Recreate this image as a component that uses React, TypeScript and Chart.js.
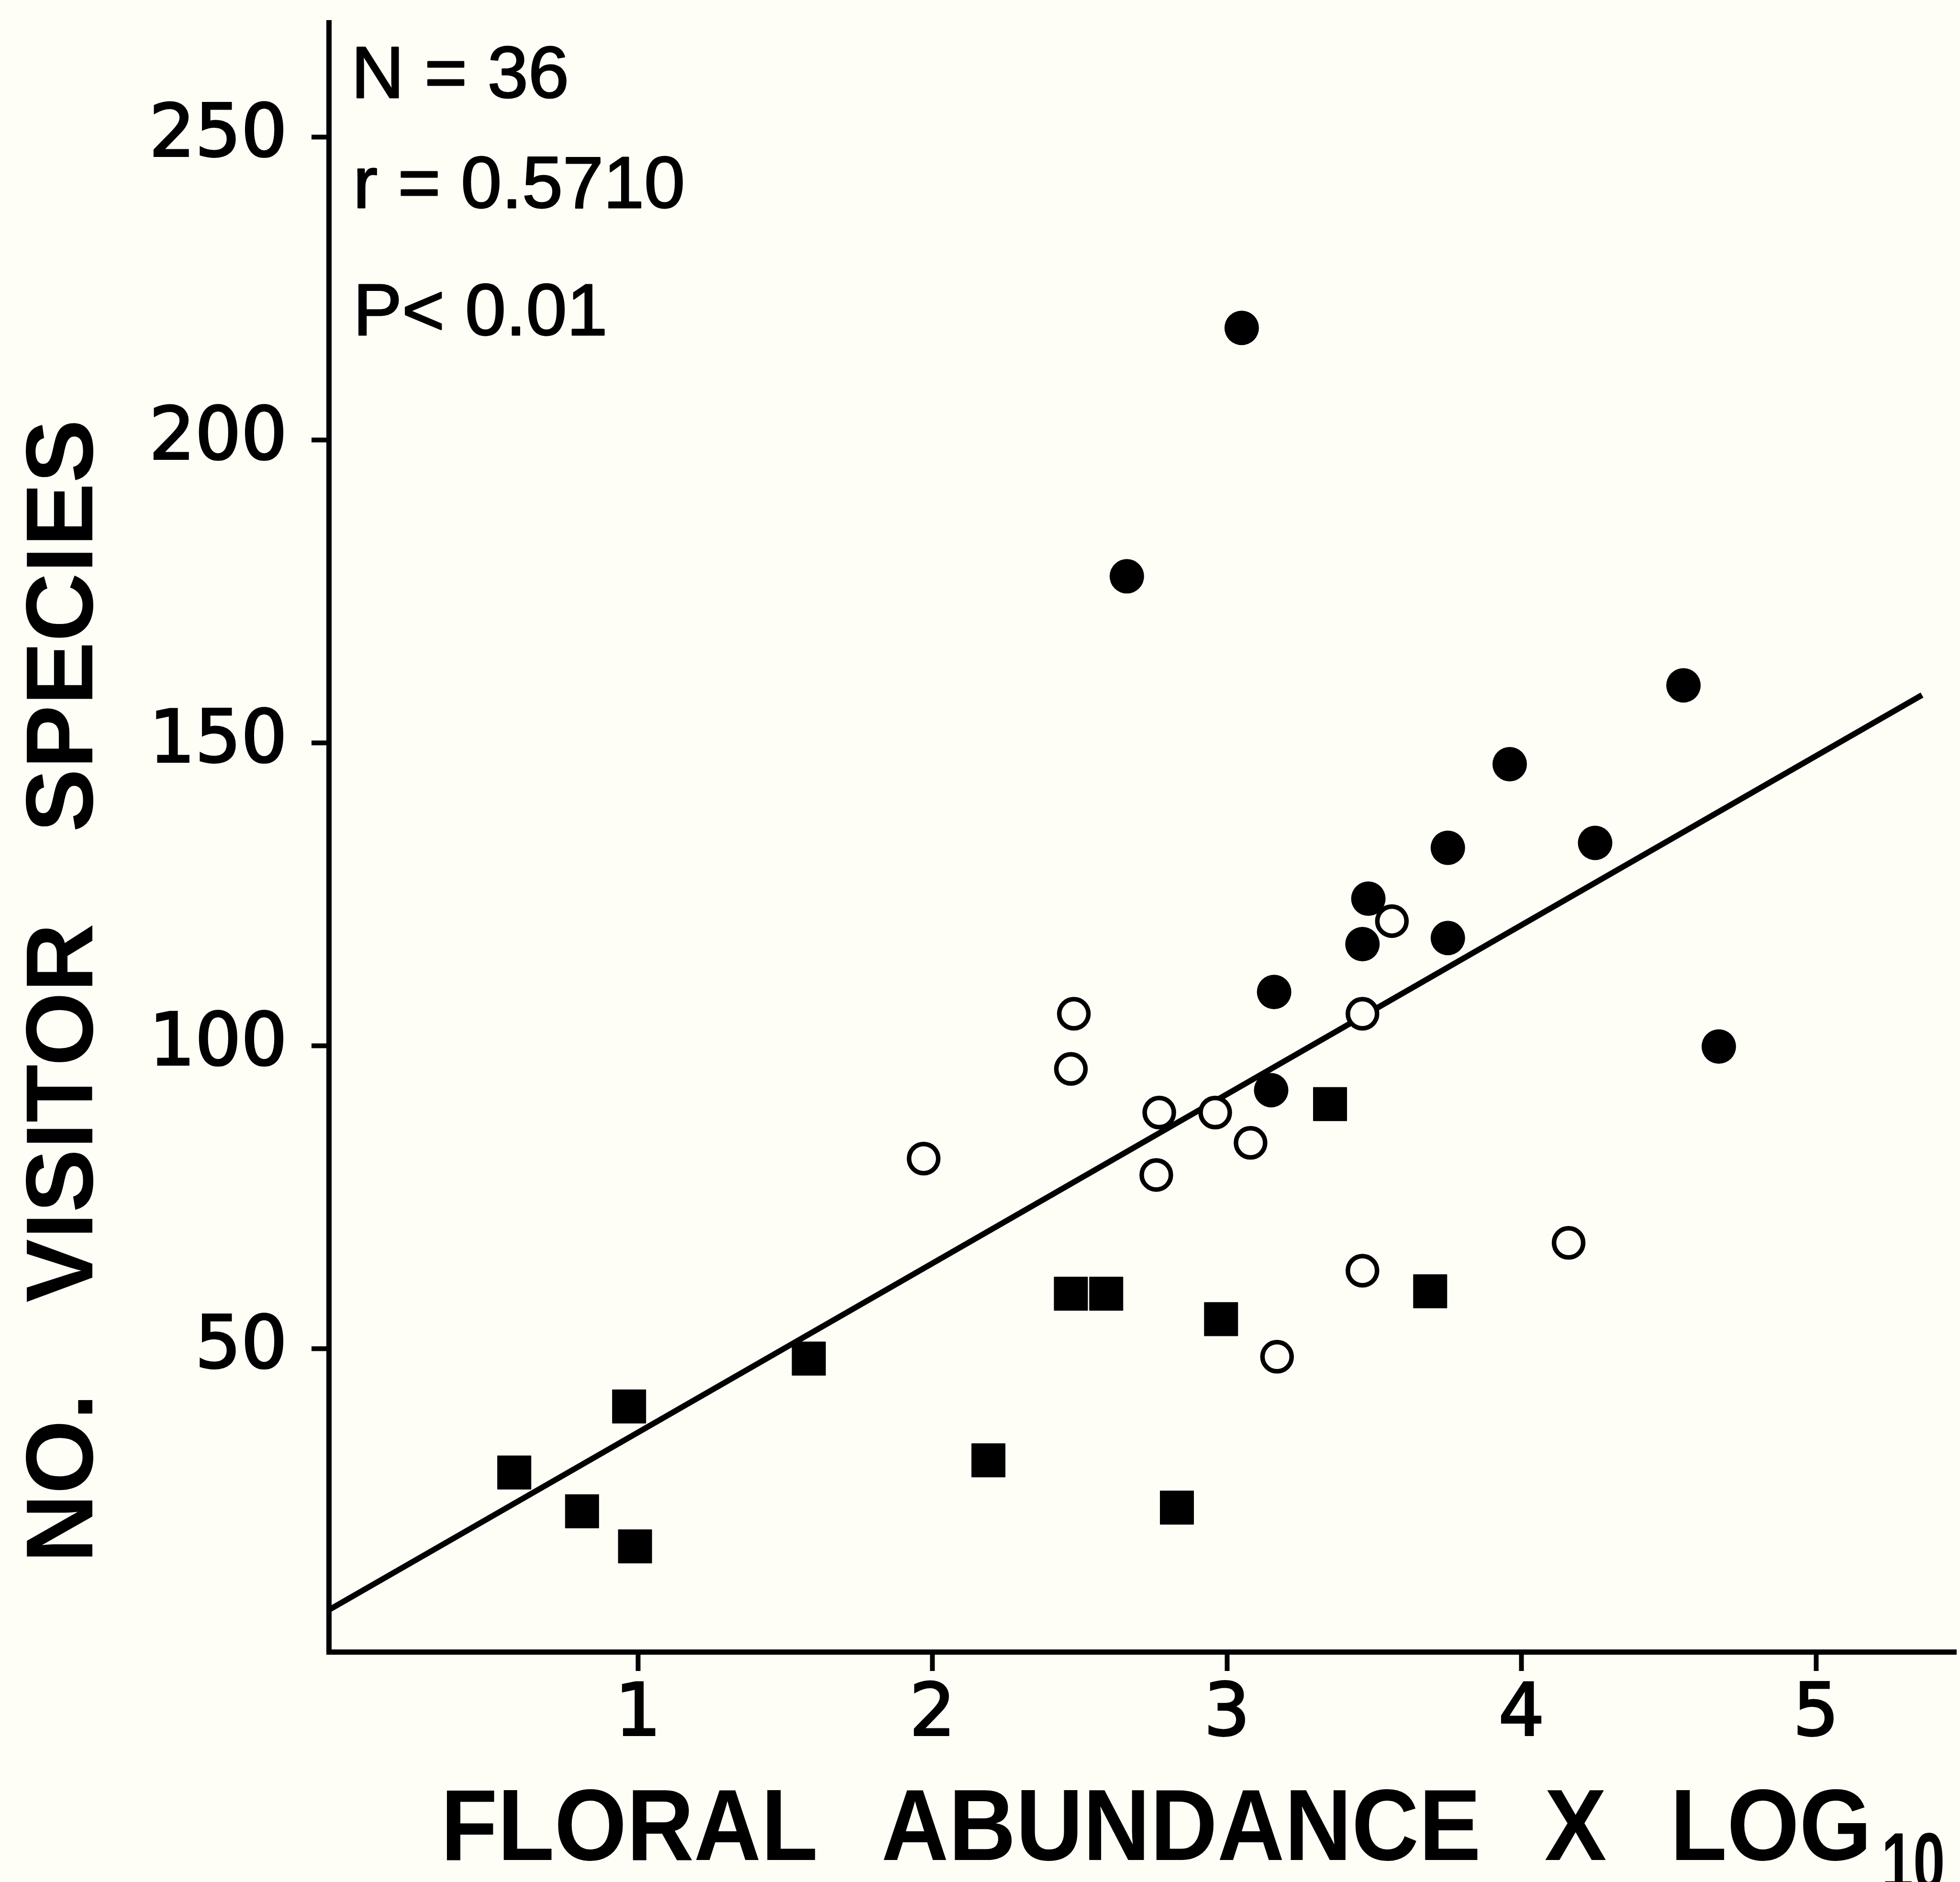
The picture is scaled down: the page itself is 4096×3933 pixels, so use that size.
import React, { useEffect, useRef } from 'react';
import { Chart, registerables } from 'chart.js';

Chart.register(...registerables);

// ---- data ----
const filledCircleX = [3.05, 2.66, 4.55, 3.96, 3.75, 4.25, 3.48, 3.46, 3.75, 3.16, 3.15, 4.67];
const filledCircleY = [218.5, 177.5, 159.5, 146.5, 132.7, 133.5, 124.3, 116.8, 117.8, 108.9, 92.7, 99.9];

const openCircleX = [3.56, 2.48, 3.46, 2.47, 2.77, 2.96, 3.08, 1.97, 2.76, 4.16, 3.46, 3.17];
const openCircleY = [120.6, 105.3, 105.3, 96.2, 89.0, 89.0, 84.0, 81.4, 78.7, 67.5, 62.9, 48.7];

const squareX = [3.35, 2.47, 2.59, 2.98, 3.69, 1.58, 0.97, 0.58, 0.81, 0.99, 2.19, 2.83];
const squareY = [90.4, 59.1, 59.1, 54.9, 59.5, 48.4, 40.5, 29.6, 23.2, 17.4, 31.6, 23.8];

const fitLineX = [-0.05, 5.36];
const fitLineY = [6.9, 157.9];

const xTicks = [1, 2, 3, 4, 5];
const yTicks = [50, 100, 150, 200, 250];

const statLines = ['N = 36', 'r = 0.5710', 'P< 0.01'];
const xTitle = 'FLORAL ABUNDANCE X LOG';
const xTitleSub = '10';
const yTitle = 'NO. VISITOR SPECIES';

const X_MIN = -0.05;
const X_MAX = 5.476;
const Y_MIN = 0;
const Y_MAX = 268.9;

const W = 4096;
const H = 3933;
const BG = '#fefef7';

const toPts = (xs: number[], ys: number[]) => xs.map((x, i) => ({ x, y: ys[i] }));

const textPlugin = {
  id: 'figureText',
  beforeDraw(chart: any) {
    const ctx = chart.ctx as CanvasRenderingContext2D;
    ctx.save();
    ctx.fillStyle = BG;
    ctx.fillRect(0, 0, chart.width, chart.height);
    ctx.restore();
  },
  afterDraw(chart: any) {
    const ctx = chart.ctx as any;
    const area = chart.chartArea;
    ctx.save();
    ctx.fillStyle = '#000';
    ctx.strokeStyle = '#000';
    ctx.lineJoin = 'round';
    ctx.textAlign = 'left';
    ctx.textBaseline = 'alphabetic';

    // statistics block
    ctx.font = '153px "Liberation Sans"';
    ctx.lineWidth = 3;
    const statBase = [204, 434, 700];
    const statX = [area.left + 47, area.left + 51, area.left + 51];
    statLines.forEach((s, i) => {
      ctx.fillText(s, statX[i], statBase[i]);
      ctx.strokeText(s, statX[i], statBase[i]);
    });

    // x-axis title
    ctx.save();
    ctx.translate(921, 3887);
    ctx.scale(0.917, 1);
    ctx.font = 'bold 212px "Liberation Sans"';
    ctx.wordSpacing = '86px';
    ctx.fillText(xTitle, 0, 0);
    ctx.restore();

    // subscript
    ctx.save();
    ctx.translate(3932, 3949);
    ctx.scale(0.7, 1);
    ctx.font = 'bold 170px "Liberation Sans"';
    ctx.fillText(xTitleSub, 0, 0);
    ctx.restore();

    // y-axis title
    ctx.save();
    ctx.translate(193, 3266);
    ctx.rotate(-Math.PI / 2);
    ctx.font = 'bold 199px "Liberation Sans"';
    ctx.wordSpacing = '135px';
    ctx.fillText(yTitle, 0, 0);
    ctx.restore();

    ctx.restore();
  },
};

export default function App() {
  const ref = useRef<HTMLCanvasElement | null>(null);

  useEffect(() => {
    if (!ref.current) return;
    const tickFont = { family: '"DejaVu Sans"', size: 151, lineHeight: 1.2 };
    const chart = new Chart(ref.current, {
      type: 'scatter',
      data: {
        datasets: [
          {
            label: 'open',
            data: toPts(openCircleX, openCircleY),
            pointStyle: 'circle',
            pointRadius: 30.5,
            backgroundColor: BG,
            borderColor: '#000',
            borderWidth: 9.5,
            order: 0,
          } as any,
          {
            label: 'filled',
            data: toPts(filledCircleX, filledCircleY),
            pointStyle: 'circle',
            pointRadius: 36,
            backgroundColor: '#000',
            borderColor: '#000',
            borderWidth: 0,
            order: 1,
          },
          {
            label: 'squares',
            data: toPts(squareX, squareY),
            pointStyle: 'rect',
            pointRadius: 49.5,
            backgroundColor: '#000',
            borderColor: '#000',
            borderWidth: 1,
            order: 2,
          },
          {
            type: 'line',
            label: 'fit',
            data: toPts(fitLineX, fitLineY),
            showLine: true,
            pointRadius: 0,
            borderColor: '#000',
            borderWidth: 12,
            fill: false,
            tension: 0,
            order: 3,
          } as any,
        ],
      },
      options: {
        responsive: false,
        animation: false,
        devicePixelRatio: 1,
        layout: { autoPadding: false, padding: { top: 47, right: 8, bottom: 0, left: 0 } },
        plugins: {
          legend: { display: false },
          tooltip: { enabled: false },
        },
        scales: {
          x: {
            type: 'linear',
            min: X_MIN,
            max: X_MAX,
            afterBuildTicks: (s: any) => {
              s.ticks = xTicks.map((v) => ({ value: v }));
            },
            afterFit: (s: any) => {
              s.height = 481;
              s.paddingLeft = 0;
              s.paddingRight = 0;
            },
            ticks: {
              color: '#000',
              font: tickFont,
              padding: 4,
              maxRotation: 0,
              autoSkip: false,
              textStrokeColor: '#000',
              textStrokeWidth: 4,
              callback: (v: any) => String(v),
            },
            grid: {
              drawOnChartArea: false,
              drawTicks: true,
              tickLength: 40,
              tickWidth: 10,
              tickColor: '#000',
              color: '#000',
            },
            border: { display: true, color: '#000', width: 11 },
          },
          y: {
            type: 'linear',
            min: Y_MIN,
            max: Y_MAX,
            afterBuildTicks: (s: any) => {
              s.ticks = yTicks.map((v) => ({ value: v }));
            },
            afterFit: (s: any) => {
              s.width = 687;
              s.paddingTop = 0;
              s.paddingBottom = 0;
            },
            ticks: {
              color: '#000',
              font: tickFont,
              padding: 51,
              autoSkip: false,
              textStrokeColor: '#000',
              textStrokeWidth: 4,
              callback: (v: any) => String(v),
            },
            grid: {
              drawOnChartArea: false,
              drawTicks: true,
              tickLength: 36,
              tickWidth: 10,
              tickColor: '#000',
              color: '#000',
            },
            border: { display: true, color: '#000', width: 11 },
          },
        },
      },
      plugins: [textPlugin],
    });
    return () => chart.destroy();
  }, []);

  return (
    <div style={{ position: 'fixed', left: 0, top: 0, width: W, height: H, background: BG }}>
      <canvas ref={ref} width={W} height={H} style={{ display: 'block', width: W, height: H }} />
    </div>
  );
}
